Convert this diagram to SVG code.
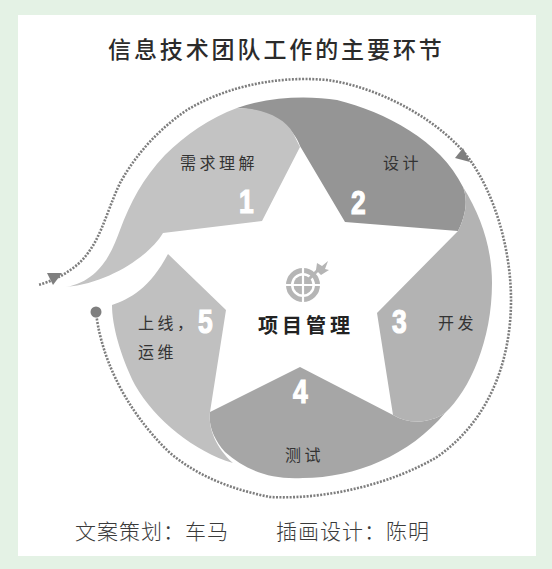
<svg xmlns="http://www.w3.org/2000/svg" width="552" height="569" viewBox="0 0 552 569">
<style>
text{font-family:"Noto Sans CJK SC","Noto Sans",sans-serif}
.t{font-size:23px;letter-spacing:2.9px;fill:#2b2b2b;font-weight:500}
.l{font-size:16px;letter-spacing:3.5px;fill:#333}
.n{font-family:"Liberation Sans",sans-serif;font-size:33px;font-weight:700;fill:#fff;stroke:#fff;stroke-width:1.2}
.c{font-size:21px;letter-spacing:1px;fill:#3a3a3a;font-weight:300}
.d{fill:none;stroke:#7d7d7d;stroke-width:2.6;stroke-dasharray:2 1.4}
.a{fill:#7f7f7f}
</style>
<rect width="552" height="569" fill="#e4f2e5"/>
<rect x="18" y="15" width="518" height="541" fill="#fff"/>
<text class="t" x="108" y="58">信息技术团队工作的主要环节</text>
<g id="connectors">
<path class="d" d="M96,312 C100,350 120,405 170,453 C200,478 235,490 270,497 C330,500 395,482 437,457 C490,420 511,360 511,300 C511,250 495,195 470,160 C445,125 385,88 327,80 C270,75 220,90 187,110 C150,135 130,165 120,183 C105,215 100,245 77,265 C65,275 50,282 38,285"/>
<circle class="a" cx="96" cy="312" r="5.5"/>
<polygon class="a" points="463,148 470,162 455,158"/>
<polygon class="a" points="47,273 62,273 53,285"/>
</g>
<g id="node-2">
<path fill="#959595" d="M237,108 C270,96 310,96 337,100 C385,112 440,140 463,187 C468,200 466,215 458,231 L345,222 L300,146 C292,122 262,108 237,108Z"/>
<text class="l" x="383" y="169">设计</text>
<text class="n" transform="translate(351,214) scale(.8,1)">2</text>
</g>
<g id="node-1">
<path fill="#c3c3c3" d="M66,287 C100,281 112,252 120,230 C130,203 143,178 165,155 C185,135 210,118 237,108 C262,108 285,118 293,133 L300,147 L262,221 L163,233 C150,255 110,283 66,287Z"/>
<text class="l" x="180" y="169">需求理解</text>
<text class="n" transform="translate(239,213) scale(.8,1)">1</text>
</g>
<g id="node-4">
<path fill="#a6a6a6" d="M210,412 L300,367 L393,415 C410,425 430,423 445,413 C410,455 355,478 303,478 C270,480 245,470 225,452 C214,440 208,425 210,412Z"/>
<text class="l" x="285" y="461">测试</text>
<text class="n" transform="translate(293,403) scale(.8,1)">4</text>
</g>
<g id="node-3">
<path fill="#b3b3b3" d="M463,187 C482,217 492,250 492,283 C492,340 470,390 445,413 C430,423 410,425 393,415 L377,313 L458,231 C466,215 468,200 463,187Z"/>
<text class="l" x="438" y="329">开发</text>
<text class="n" transform="translate(392,333) scale(.8,1)">3</text>
</g>
<g id="node-5">
<path fill="#c0c0c0" d="M112,305 C130,299 150,288 168,254 L226,310 L210,412 C208,428 216,448 233,463 C195,452 155,420 135,385 C120,355 112,325 112,305Z"/>
<text class="l" x="138" y="329">上线&#xFF0C;</text>
<text class="l" x="138" y="358">运维</text>
<text class="n" transform="translate(198,333) scale(.8,1)">5</text>
</g>
<g id="node-center">
<circle cx="303" cy="285" r="14.5" fill="none" stroke="#b5b5b5" stroke-width="5"/>
<circle cx="303" cy="285" r="9.5" fill="#b5b5b5"/>
<path d="M303,266 V304 M284,285 H322" stroke="#fff" stroke-width="2.2" fill="none"/>
<path d="M306,282 L320,268" stroke="#b5b5b5" stroke-width="3"/>
<polygon points="317,263 322,266 328,261 325,269 329,270 321,275 316,270" fill="#b5b5b5"/>
<text x="258" y="333" style="font-size:20px;letter-spacing:4px;font-weight:700;fill:#222">项目管理</text>
</g>
<text class="c" x="75" y="539">文案策划&#xFF1A;车马</text>
<text class="c" x="276" y="539">插画设计&#xFF1A;陈明</text>
</svg>
